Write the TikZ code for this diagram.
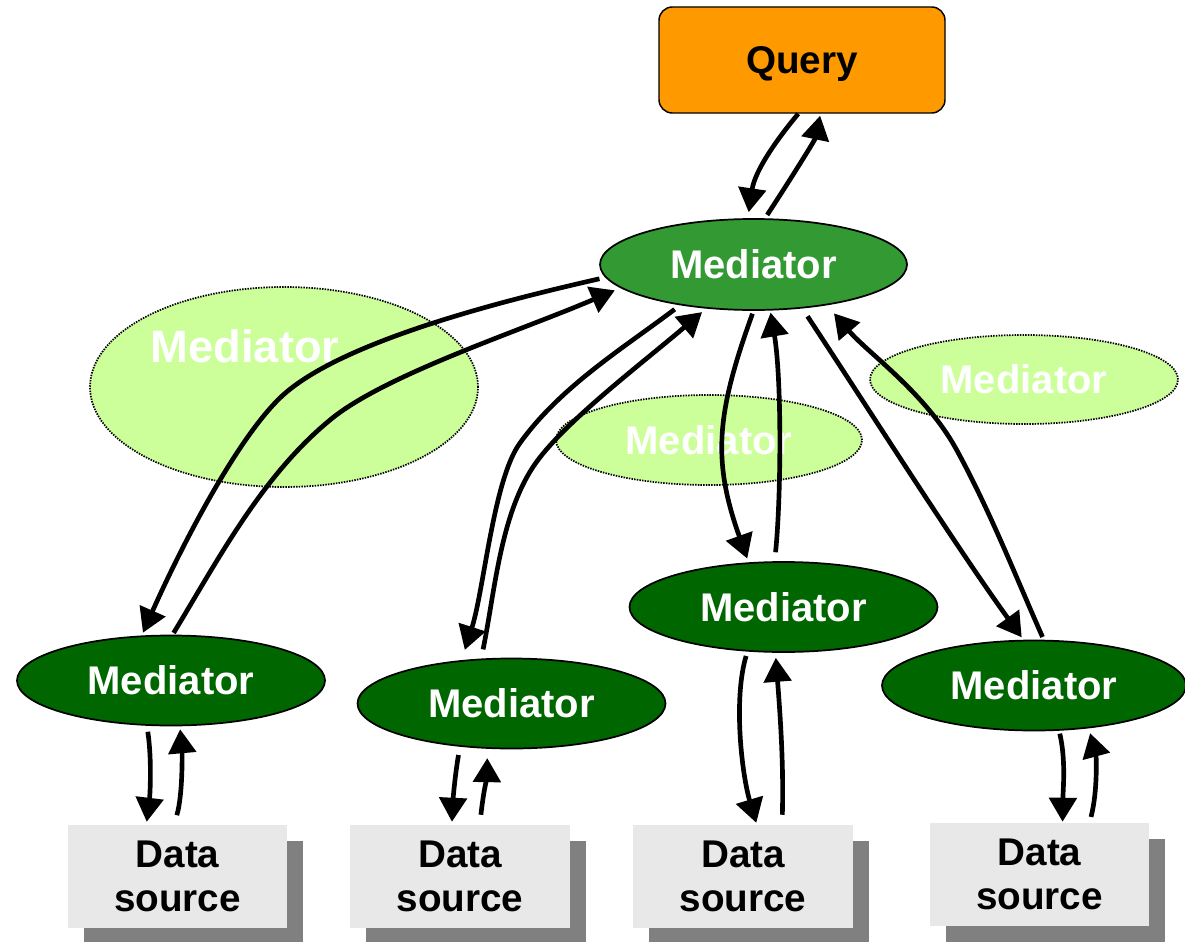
\documentclass[tikz,border=0pt]{standalone}
\usepackage{fontspec}
\setmainfont{Liberation Sans}
\usetikzlibrary{arrows.meta,shapes.geometric,shadows}
\definecolor{queryorange}{HTML}{FF9900}
\definecolor{topgreen}{HTML}{339933}
\definecolor{darkgreen}{HTML}{006600}
\definecolor{palegreen}{HTML}{CCFF99}
\definecolor{sourcegray}{HTML}{E8E8E8}
\definecolor{shadowgray}{HTML}{808080}
\begin{document}
\begin{tikzpicture}[x=0.75pt, y=-0.75pt,
  query/.style={rectangle, rounded corners=10pt, draw=black, line width=1.1pt,
    fill=queryorange, minimum width=214.5pt, minimum height=79.5pt,
    text height=21pt, text depth=0pt, font=\fontsize{29}{34}\selectfont\bfseries},
  med/.style={ellipse, draw=black, line width=1.3pt, inner sep=0pt,
    minimum width=231pt, minimum height=67.5pt, text=white,
    font=\fontsize{30}{36}\selectfont\bfseries},
  ghost/.style={ellipse, draw=black, line width=1.3pt, dash pattern=on 1.1pt off 0.9pt,
    fill=palegreen, inner sep=0pt, text=white,
    font=\fontsize{30}{36}\selectfont\bfseries},
  ghostlabel/.style={text=white, inner sep=0pt, font=\fontsize{34}{40}\selectfont\bfseries},
  source/.style={rectangle, fill=sourcegray, inner sep=0pt, align=center,
    minimum width=164.5pt, minimum height=77.25pt,
    font=\fontsize{29}{33}\selectfont\bfseries,
    general shadow={fill=shadowgray, shadow xshift=12pt, shadow yshift=-12pt}},
  flow/.style={line width=3.5pt, -{Triangle[length=18pt,width=20.5pt]}}
]
\useasboundingbox (0,0) rectangle (1185,942);

% pale mediators in the background
\node[ghost, minimum width=291pt, minimum height=150pt] (g1) at (284,387) {};
\node[ghostlabel, anchor=base] (g1t) at (245,362) {Mediator};
\node[ghost, minimum width=229.5pt, minimum height=67.5pt] (g2) at (709,440) {Mediator};
\node[ghost, minimum width=231pt, minimum height=66.75pt] (g3) at (1024,379.5) {Mediator};

% query, mediators and data sources
\node[query] (q) at (802,60) {Query};
\node[med, fill=topgreen, minimum width=230.25pt, minimum height=68.25pt] (m0) at (753.5,264.5) {Mediator};
\node[med, fill=darkgreen] (m1) at (171,680.5) {Mediator};
\node[med, fill=darkgreen] (m2) at (511.5,703.5) {Mediator};
\node[med, fill=darkgreen] (m3) at (783.5,607) {Mediator};
\node[med, fill=darkgreen, minimum width=228pt] (m4) at (1034,685.5) {Mediator};

\node[source] (ds1) at (177.5,876.5) {Data\\source};
\node[source] (ds2) at (460,876.5) {Data\\source};
\node[source] (ds3) at (743,876.5) {Data\\source};
\node[source, minimum width=164.25pt] (ds4) at (1039.5,874.5) {Data\\source};

% query <-> top mediator
\draw[flow, shorten >=4.5pt] (q.-94) .. controls (778,138) and (755,170) .. (m0.97);
\draw[flow, shorten <=3pt, shorten >=1.5pt] (m0.76) .. controls (790,180) and (815,140) .. (q.-71);

% top mediator <-> lower mediators
\draw[flow, shorten <=4.5pt, shorten >=2.25pt] (m0.185) .. controls (497,302) and (351,340) .. (289,390)
  .. controls (242,427) and (180,549) .. (m1.123);
\draw[flow, shorten <=1.5pt, shorten >=4.5pt] (m1.88) .. controls (219,558) and (262,476) .. (330,420)
  .. controls (384,375) and (520,331) .. (m0.190);

\draw[flow, shorten <=5pt, shorten >=8pt] (m0.209) .. controls (625,347) and (561,386) .. (520,443)
  .. controls (493.5,479) and (484,590) .. (m2.139);
\draw[flow, shorten <=7pt, shorten >=4pt] (m2.124) .. controls (494.5,594) and (500,517) .. (533,467)
  .. controls (560.5,425) and (640,365) .. (m0.223);

\draw[flow, shorten <=2.25pt, shorten >=3pt] (m0.270) .. controls (716.6,413) and (711.9,459.8) .. (m3.128);
\draw[flow, shorten <=6.75pt, shorten >=1.5pt] (m3.101) .. controls (781,500) and (782,380) .. (m0.-70);

\draw[flow, shorten <=7pt, shorten >=2.25pt] (m0.-42) .. controls (868,408) and (955,545) .. (m4.103);
\draw[flow, shorten <=2.25pt, shorten >=8pt] (m4.78) .. controls (1015.5,576) and (990.3,511.6) .. (956.7,450)
  .. controls (925.5,392.8) and (868.3,353.5) .. (m0.-29);

% lower mediators <-> data sources
\draw[flow, shorten <=4.5pt, shorten >=2.25pt] (m1.242) .. controls (152,760) and (150,795) .. (ds1.121);
\draw[flow, shorten <=7.5pt, shorten >=2.25pt] (ds1.94) .. controls (183,795) and (182,750) .. (m1.-79);

\draw[flow, shorten <=6.3pt, shorten >=2.25pt] (m2.220) .. controls (455,775) and (453,800) .. (ds2.99);
\draw[flow, shorten <=7.5pt, shorten >=7pt] (ds2.69) .. controls (483,795) and (487,775) .. (m2.242);

\draw[flow, shorten <=3.4pt, shorten >=1.5pt] (m3.231) .. controls (733,700) and (742,775) .. (ds3.75);
\draw[flow, shorten <=7.5pt, shorten >=3.75pt] (ds3.53) .. controls (784,760) and (779,700) .. (m3.260);

\draw[flow, shorten <=2.25pt, shorten >=0.75pt] (m4.-61) .. controls (1066,760) and (1063,790) .. (ds4.66);
\draw[flow, shorten <=4.5pt, shorten >=3.75pt] (ds4.46) .. controls (1098,790) and (1096,755) .. (m4.-38);
\end{tikzpicture}
\end{document}
